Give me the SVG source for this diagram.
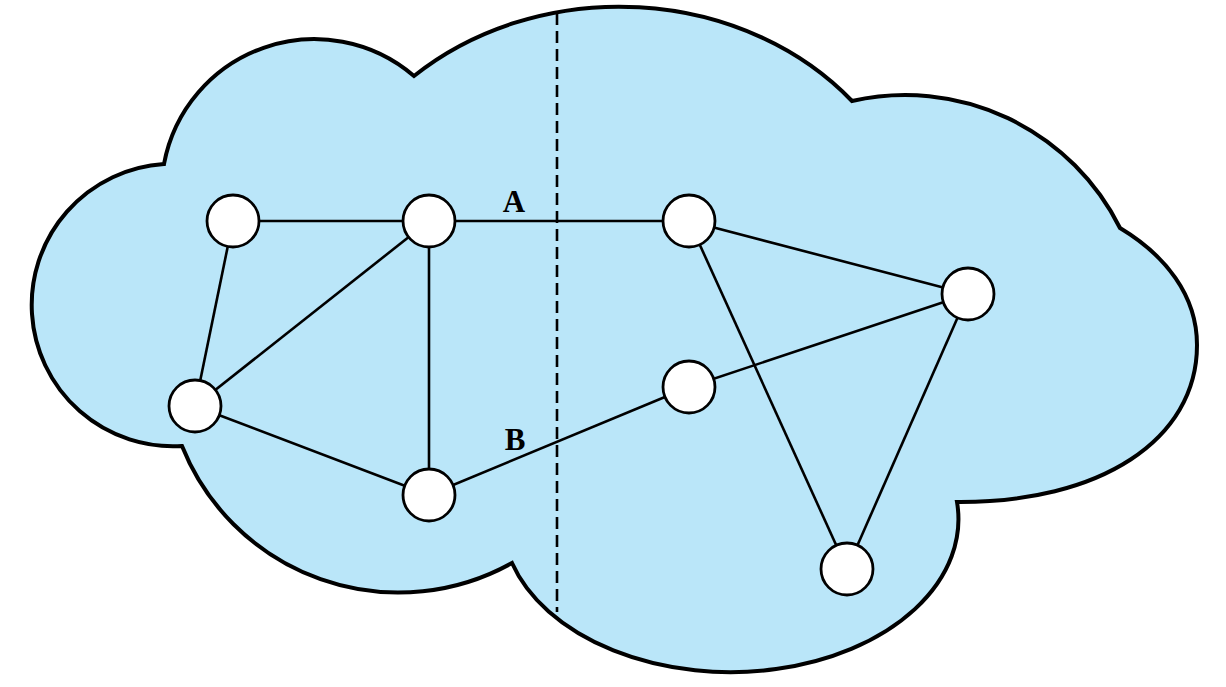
<svg xmlns="http://www.w3.org/2000/svg" width="1226" height="687" viewBox="0 0 1226 687">
<style>
.cloud{fill:#bae6f9;stroke:#000;stroke-width:4;stroke-linejoin:miter}
.edge{stroke:#000;stroke-width:2.6;fill:none}
.node{fill:#fff;stroke:#000;stroke-width:2.8}
.divider{stroke:#000;stroke-width:2.6;stroke-dasharray:12 6;fill:none}
.lbl{font-family:"Liberation Serif","Times New Roman",serif;font-weight:bold;font-size:31px;fill:#000;text-anchor:middle}
</style>
<g id="cloud">
<path class="cloud" d="M164,164 A153,153 0 0 1 414,76 A302,260 0 0 1 852,101 A240,240 0 0 1 1120,228 C1165,255 1197,295 1197,345 C1197,440 1100,503 957,502 A228,153 0 0 1 512,563 A233,233 0 0 1 182,446 A139,139 0 1 1 164,164 Z"/>
</g>
<g id="divider">
<line class="divider" x1="557" y1="13" x2="557" y2="612"/>
</g>
<g id="connectors">
<line class="edge" x1="233" y1="221" x2="429" y2="221"/>
<line class="edge" x1="429" y1="221" x2="689" y2="221"/>
<line class="edge" x1="233" y1="221" x2="195" y2="406"/>
<line class="edge" x1="429" y1="221" x2="195" y2="406"/>
<line class="edge" x1="429" y1="221" x2="429" y2="495"/>
<line class="edge" x1="195" y1="406" x2="429" y2="495"/>
<line class="edge" x1="429" y1="495" x2="689" y2="387"/>
<line class="edge" x1="689" y1="221" x2="968" y2="294"/>
<line class="edge" x1="689" y1="221" x2="847" y2="569"/>
<line class="edge" x1="689" y1="387" x2="968" y2="294"/>
<line class="edge" x1="968" y1="294" x2="847" y2="569"/>
</g>
<g id="labels">
<text class="lbl" x="514" y="212">A</text>
<text class="lbl" x="515" y="450">B</text>
</g>
<g id="n1"><circle class="node" cx="233" cy="221" r="26"/></g>
<g id="n2"><circle class="node" cx="429" cy="221" r="26"/></g>
<g id="n3"><circle class="node" cx="689" cy="221" r="26"/></g>
<g id="n4"><circle class="node" cx="968" cy="294" r="26"/></g>
<g id="n5"><circle class="node" cx="689" cy="387" r="26"/></g>
<g id="n6"><circle class="node" cx="195" cy="406" r="26"/></g>
<g id="n7"><circle class="node" cx="429" cy="495" r="26"/></g>
<g id="n8"><circle class="node" cx="847" cy="569" r="26"/></g>
</svg>
